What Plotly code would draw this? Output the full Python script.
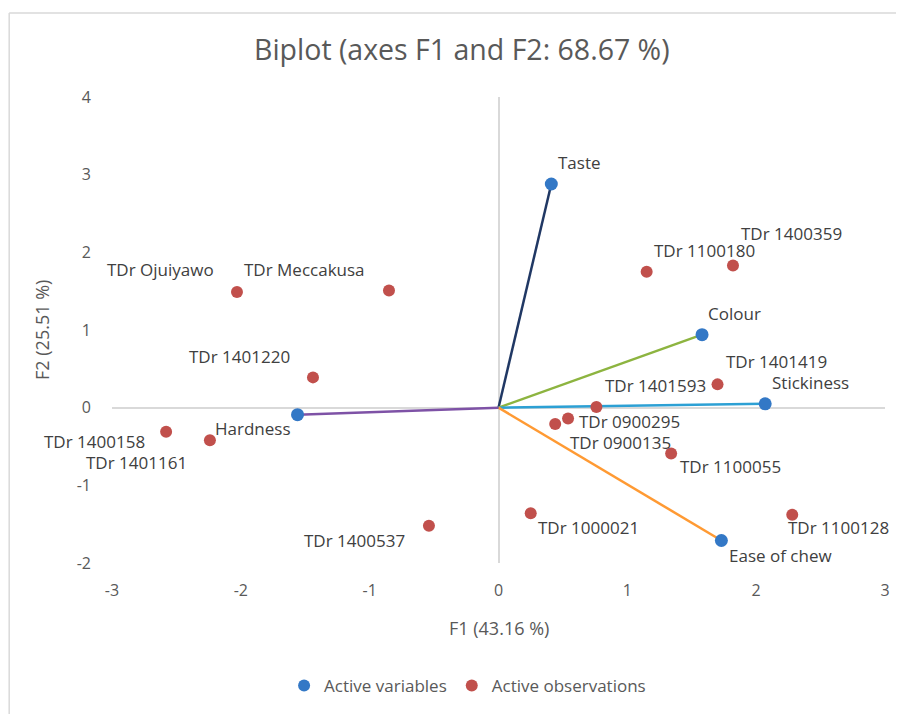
import plotly.graph_objects as go

# ---- data ----
var_names = ["Taste", "Colour", "Stickiness", "Ease of chew", "Hardness"]
var_f1 = [0.41, 1.58, 2.07, 1.73, -1.56]
var_f2 = [2.88, 0.94, 0.05, -1.71, -0.09]
var_colors = ["#203864", "#8DB440", "#2CA0D4", "#FF9A33", "#7E52A6"]

obs_names = ["TDr Ojuiyawo", "TDr Meccakusa", "TDr 1401220", "TDr 1400158", "TDr 1401161",
             "TDr 1400537", "TDr 1000021", "TDr 1100128", "TDr 1100055", "TDr 0900295",
             "TDr 0900135", "TDr 1401593", "TDr 1401419", "TDr 1100180", "TDr 1400359"]
obs_f1 = [-2.03, -0.85, -1.44, -2.58, -2.24, -0.54, 0.25, 2.28, 1.34, 0.54,
          0.44, 0.76, 1.70, 1.15, 1.82]
obs_f2 = [1.49, 1.51, 0.39, -0.31, -0.42, -1.52, -1.36, -1.38, -0.59, -0.14,
          -0.21, 0.01, 0.30, 1.75, 1.83]

x_ticks = [-3, -2, -1, 0, 1, 2, 3]
x_ticklabels = ["-3", "-2", "-1", "0", "1", "2", "3"]
y_ticks = [-2, -1, 0, 1, 2, 3, 4]
y_ticklabels = ["-2", "-1", "0", "1", "2", "3", "4"]

# label offsets (pixels, label centre relative to its point; +y = up)
var_label_dx = [28, 32, 45, 59, -45]
var_label_dy = [21, 21, 21, -15, -14]
obs_label_dx = [-76, -84, -73, -72, -73, -74, 58, 46, 59, 61, 65, 59, 59, 58, 59]
obs_label_dy = [22, 21, 21, -10, -22, -15, -14, -13, -13, -3, -19, 21, 23, 21, 32]

FONT = "Open Sans"
TXT = "#404040"
GRAY = "#595959"
LBL = 17

fig = go.Figure()

# vectors from origin
for name, x, y, c in zip(var_names, var_f1, var_f2, var_colors):
    fig.add_trace(go.Scatter(x=[0, x], y=[0, y], mode="lines",
                             line=dict(color=c, width=2.5),
                             showlegend=False, hoverinfo="skip"))

fig.add_trace(go.Scatter(x=var_f1, y=var_f2, mode="markers", text=var_names,
                         name="Active variables", cliponaxis=False,
                         marker=dict(color="#3378C6", size=13)))

fig.add_trace(go.Scatter(x=obs_f1, y=obs_f2, mode="markers", text=obs_names,
                         name="Active observations", cliponaxis=False,
                         marker=dict(color="#C1504C", size=12)))

# point labels
for names, xs, ys, dxs, dys in [(var_names, var_f1, var_f2, var_label_dx, var_label_dy),
                                (obs_names, obs_f1, obs_f2, obs_label_dx, obs_label_dy)]:
    for n, x, y, dx, dy in zip(names, xs, ys, dxs, dys):
        fig.add_annotation(x=x, y=y, text=n, showarrow=False, xanchor="center",
                           yanchor="middle", xshift=dx, yshift=dy,
                           font=dict(family=FONT, size=LBL, color=TXT))

# axis titles
fig.add_annotation(text="F1 (43.16 %)", xref="paper", yref="paper", x=0.5, y=-0.1395,
                   showarrow=False, xanchor="center", yanchor="middle",
                   font=dict(family=FONT, size=18, color=GRAY))
fig.add_annotation(text="F2 (25.51 %)", xref="paper", yref="paper", x=-0.0906, y=0.5,
                   showarrow=False, xanchor="center", yanchor="middle", textangle=-90,
                   font=dict(family=FONT, size=18, color=GRAY))

# chart border (top and left edges)
fig.add_shape(type="line", xref="paper", yref="paper", x0=-0.133, y0=1.18, x1=1.05, y1=1.18,
              line=dict(color="#D9D9D9", width=1.5))
fig.add_shape(type="line", xref="paper", yref="paper", x0=-0.133, y0=1.18, x1=-0.133, y1=-0.35,
              line=dict(color="#D9D9D9", width=1.5))

fig.update_layout(
    width=904, height=714,
    margin=dict(l=104, r=27, t=89, b=159, autoexpand=False),
    paper_bgcolor="white", plot_bgcolor="white",
    font=dict(family=FONT, color=GRAY),
    title=dict(text="Biplot (axes F1 and F2: 68.67 %)", x=0.502, xanchor="center",
               y=0.941, yanchor="middle", font=dict(family=FONT, size=28.5, color=GRAY)),
    legend=dict(orientation="h", x=0.46, xanchor="center", y=-0.264, yanchor="middle",
                font=dict(family=FONT, size=17, color=GRAY), itemsizing="constant",
                itemwidth=30, tracegroupgap=0),
    showlegend=True,
)
fig.update_xaxes(range=[-3, 3], tickvals=x_ticks, ticktext=x_ticklabels, showgrid=False,
                 zeroline=True, automargin=False,
                 zerolinecolor="#D9D9D9", zerolinewidth=1.5, showline=False,
                 tickfont=dict(family=FONT, size=16, color=GRAY), ticklabelstandoff=16)
fig.update_yaxes(range=[-2, 4], tickvals=y_ticks, ticktext=y_ticklabels, showgrid=False,
                 zeroline=True, automargin=False,
                 zerolinecolor="#D9D9D9", zerolinewidth=1.5, showline=False,
                 tickfont=dict(family=FONT, size=16, color=GRAY), ticklabelstandoff=20)

fig.write_html("out.html")
